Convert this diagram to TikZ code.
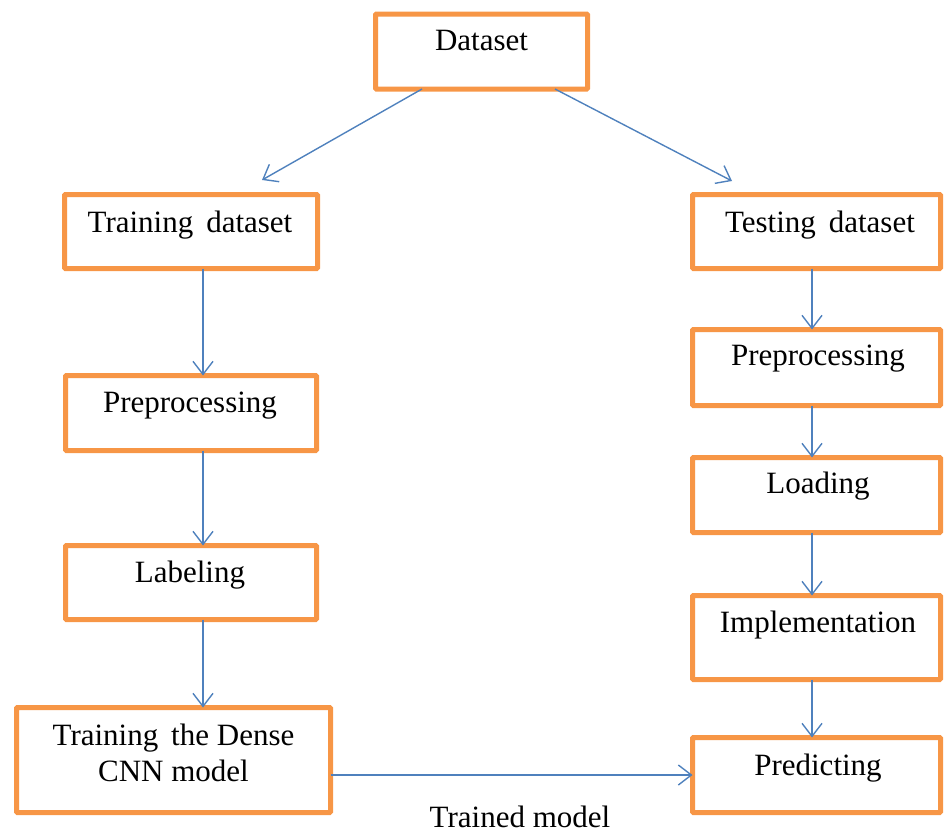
\documentclass[tikz,border=0pt]{standalone}
\usepackage{fontspec}
\setmainfont{Liberation Serif}
\usetikzlibrary{arrows.meta,calc}
\definecolor{boxorange}{HTML}{F79646}
\definecolor{flowblue}{HTML}{4F81BD}
\begin{document}
\begin{tikzpicture}[x=1pt,y=-1pt,
  stagebox/.style={draw=boxorange,line width=5pt,fill=white,rounded corners=1pt,inner sep=0pt,outer sep=0pt},
  caption/.style={anchor=base,inner sep=0pt,font=\fontsize{31}{36}\selectfont,align=center},
  flow/.style={draw=flowblue,line width=1.4pt,-{Straight Barb[length=13pt,width=20pt,line width=1.4pt]}}]
\useasboundingbox (0,0) rectangle (945,835);

% boxes
\node[stagebox,minimum width=212pt,minimum height=75pt] (ds) at (481.5,51.5) {};
\node[stagebox,minimum width=253pt,minimum height=74pt] (trd) at (191,231.5) {};
\node[stagebox,minimum width=248pt,minimum height=74pt] (ted) at (816.5,231.5) {};
\node[stagebox,minimum width=251pt,minimum height=75pt] (lpre) at (191,413) {};
\node[stagebox,minimum width=251pt,minimum height=74pt] (lab) at (191,582.5) {};
\node[stagebox,minimum width=314pt,minimum height=105pt] (tr) at (173.5,760) {};
\node[stagebox,minimum width=248pt,minimum height=76pt] (rpre) at (816.5,367.5) {};
\node[stagebox,minimum width=248pt,minimum height=75pt] (load) at (816.5,495) {};
\node[stagebox,minimum width=248pt,minimum height=84pt] (impl) at (816.5,637.5) {};
\node[stagebox,minimum width=248pt,minimum height=75pt] (pred) at (816.5,775) {};

% captions
\node[caption] (tds) at (481.5,50) {Dataset};
\node[caption] (ttrd) at (190,232) {Training\, dataset};
\node[caption] (tted) at (820,232) {Testing\, dataset};
\node[caption] (tlpre) at (190,412) {Preprocessing};
\node[caption] (tlab) at (190,582) {Labeling};
\node[caption] (ttr1) at (173.5,745) {Training\, the Dense};
\node[caption] (ttr2) at (173.5,781) {CNN model};
\node[caption] (trpre) at (818,365) {Preprocessing};
\node[caption] (tload) at (818,493) {Loading};
\node[caption] (timpl) at (818,632) {Implementation};
\node[caption] (tpred) at (818,775) {Predicting};
\node[caption] (ttm) at (520,827) {Trained model};

% arrow columns and free ends
\coordinate (lx) at (203,0);
\coordinate (rx) at (812,0);
\coordinate (dsl) at (422,0);
\coordinate (dsr) at (555,0);
\coordinate (endl) at (262,180);
\coordinate (endr) at (732,181);

% connectors
\draw[flow] (ds.south -| dsl) -- (endl);
\draw[flow] (ds.south -| dsr) -- (endr);
\draw[flow] (trd.south -| lx) -- (lpre.north -| lx);
\draw[flow] (lpre.south -| lx) -- (lab.north -| lx);
\draw[flow] (lab.south -| lx) -- (tr.north -| lx);
\draw[flow] (ted.south -| rx) -- (rpre.north -| rx);
\draw[flow] (rpre.south -| rx) -- (load.north -| rx);
\draw[flow] (load.south -| rx) -- (impl.north -| rx);
\draw[flow] (impl.south -| rx) -- (pred.north -| rx);
\draw[flow] (tr.east |- pred.west) -- (pred.west);
\end{tikzpicture}
\end{document}
